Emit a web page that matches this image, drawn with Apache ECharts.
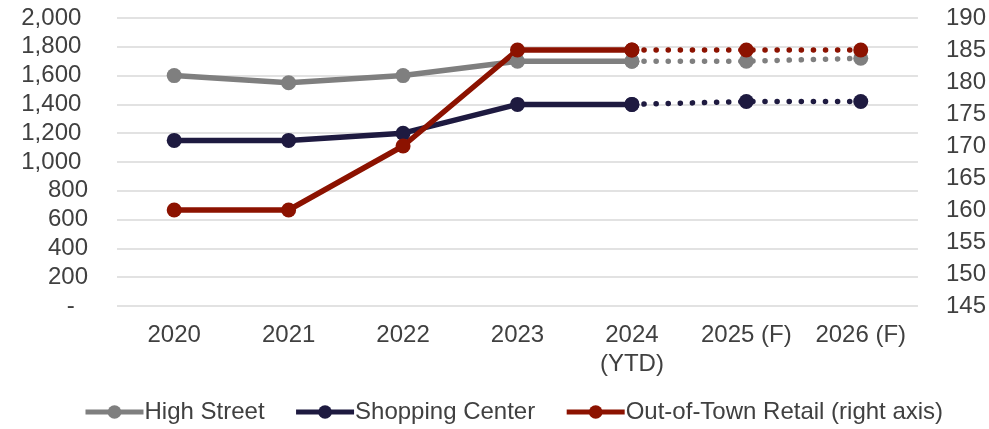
<!DOCTYPE html>
<html><head><meta charset="utf-8">
<script src="https://cdn.jsdelivr.net/npm/echarts@6/dist/echarts.min.js"></script>
<style>html,body{margin:0;padding:0;background:#fff}#c{width:989px;height:429px}</style>
</head><body><div id="c"></div>
<script>
const categories = ['2020','2021','2022','2023','2024\n(YTD)','2025 (F)','2026 (F)'];
const highStreet = [1600,1550,1600,1700,1700,1700,1720];
const shoppingCenter = [1150,1150,1200,1400,1400,1420,1420];
const outOfTown = [160,160,170,185,185,185,185];
const actualCount = 5; // 2020..2024 solid, 2024..2026 dotted

const leftTicks = {min:0,max:2000,interval:200};
const rightTicks = {min:145,max:190,interval:5};

function solidPart(a){return a.map((v,i)=> i<actualCount ? v : null);}
function dotPart(a){return a.map((v,i)=> i>=actualCount-1 ? v : null);}

const colors = {hs:'#7f7f7f', sc:'#1e1a40', ot:'#8c1200'};
const font = 'Liberation Sans, Arial, sans-serif';

function mk(name, data, color, yIdx, dotted){
  return {
    name: name, type:'line', yAxisIndex:yIdx, data:data,
    symbol:'circle', symbolSize: 15,
    showSymbol:true, connectNulls:false,
    itemStyle:{color:color},
    lineStyle: dotted ? {color:color,width:5.5,type:[0.1,12],cap:'round'} : {color:color,width:5.5},
    z: 3,
    animation:false
  };
}

const chart = echarts.init(document.getElementById('c'), null, {renderer:'canvas'});
chart.setOption({
  animation:false,
  grid:{left:117,right:70,top:18,bottom:123,containLabel:false},
  legend:{
    data:['High Street','Shopping Center','Out-of-Town Retail (right axis)'],
    top:400, left:83, padding:0, itemWidth:58, itemHeight:17, itemGap:29,
    lineStyle:{width:5},
    textStyle:{fontFamily:font,fontSize:24,color:'#404040',padding:[0,0,0,-4]}
  },
  xAxis:{
    type:'category', data:categories, boundaryGap:true,
    axisLine:{show:false}, axisTick:{show:false},
    axisLabel:{interval:0,fontFamily:font,fontSize:24,color:'#404040',margin:15,lineHeight:29}
  },
  yAxis:[
    {type:'value', min:leftTicks.min, max:leftTicks.max, interval:leftTicks.interval,
     axisLine:{show:false}, axisTick:{show:false},
     splitLine:{lineStyle:{color:'#d9d9d9',width:1.5}},
     axisLabel:{fontFamily:font,fontSize:24,color:'#404040',margin:29,
       formatter:v=> v===0 ? '-  ' : (v>=1000 ? v.toLocaleString('en-US')+' ' : String(v))}},
    {type:'value', min:rightTicks.min, max:rightTicks.max, interval:rightTicks.interval,
     axisLine:{show:false}, axisTick:{show:false}, splitLine:{show:false},
     axisLabel:{fontFamily:font,fontSize:24,color:'#404040',margin:28}}
  ],
  series:[
    mk('High Street', solidPart(highStreet), colors.hs, 0, false),
    mk('High Street F', dotPart(highStreet), colors.hs, 0, true),
    mk('Shopping Center', solidPart(shoppingCenter), colors.sc, 0, false),
    mk('Shopping Center F', dotPart(shoppingCenter), colors.sc, 0, true),
    mk('Out-of-Town Retail (right axis)', solidPart(outOfTown), colors.ot, 1, false),
    mk('Out-of-Town Retail F', dotPart(outOfTown), colors.ot, 1, true)
  ]
});
</script></body></html>
